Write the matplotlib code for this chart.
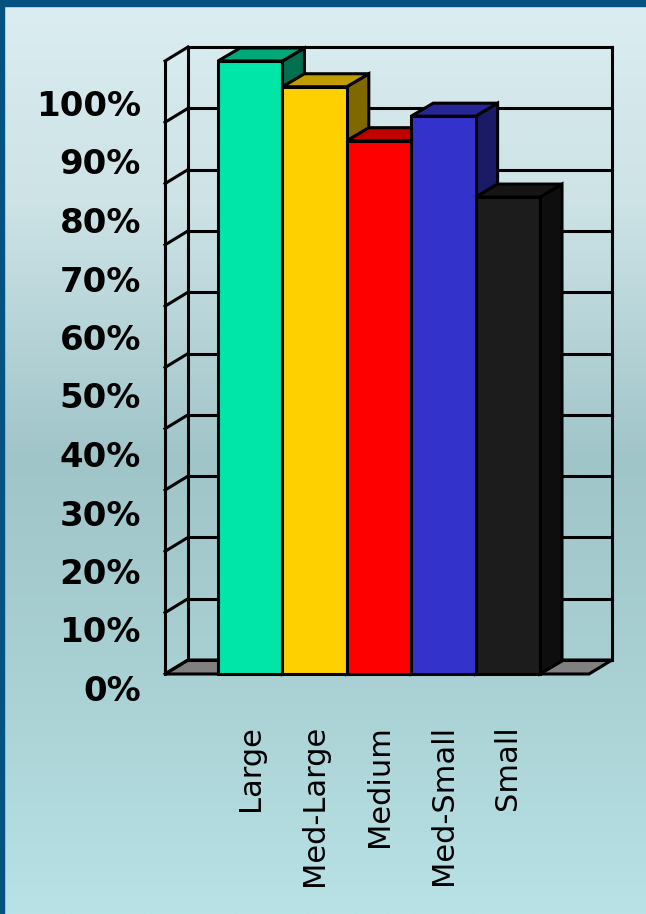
import numpy as np
import matplotlib
matplotlib.use("Agg")
import matplotlib.pyplot as plt
from matplotlib.patches import Polygon, Rectangle
from matplotlib.transforms import blended_transform_factory
from matplotlib.colors import LinearSegmentedColormap

# ---- data ----
categories = ["Large", "Med-Large", "Medium", "Med-Small", "Small"]
values = [100.0, 95.8, 87.0, 91.0, 77.8]
front_colors = ["#00e5a8", "#ffd000", "#ff0000", "#3333cc", "#1c1c1c"]
top_colors = ["#00a87a", "#c09c00", "#c00000", "#262699", "#151515"]
side_colors = ["#007050", "#806800", "#800000", "#1a1a66", "#0e0e0e"]
y_ticks = list(range(0, 101, 10))
y_tick_labels = [f"{t}%" for t in y_ticks]

W, H = 646, 914
fig = plt.figure(figsize=(W / 100, H / 100), dpi=100)

# background gradient
bg = fig.add_axes([0, 0, 1, 1], zorder=-10)
cmap = LinearSegmentedColormap.from_list(
    "bg",
    [(0.0, "#dbedf0"), (0.22, "#cde3e6"), (0.50, "#a0c5c9"),
     (0.72, "#a8cfd2"), (1.0, "#b8e2e6")])
grad = np.linspace(0, 1, 400).reshape(-1, 1)
bg.imshow(grad, aspect="auto", cmap=cmap, extent=[0, 1, 0, 1], origin="upper")
bg.set_axis_off()

# border
fig.patches.append(Rectangle((0, 1 - 6 / H), 1, 6 / H, transform=fig.transFigure,
                             color="#03527f", zorder=5))
fig.patches.append(Rectangle((0, 0), 4 / W, 1, transform=fig.transFigure,
                             color="#03527f", zorder=5))

# main axes: front plane
fl, fr, ft, fb = 165, 589, 61, 674
bar_l, bar_r = 218, 540
n = len(categories)
ppx = (bar_r - bar_l) / n
xl = -0.5 - (bar_l - fl) / ppx
xr = n - 0.5 + (fr - bar_r) / ppx
ax = fig.add_axes([fl / W, (H - fb) / H, (fr - fl) / W, (fb - ft) / H])
ax.set_xlim(xl, xr)
ax.set_ylim(0, 100)
ax.set_axis_off()
ax.patch.set_alpha(0)
ppy = (fb - ft) / 100.0

wdx, wdy = 23 / ppx, 14 / ppy
bdx, bdy = 22 / ppx, 13 / ppy
lw = 2.2
kw = dict(color="black", lw=lw, clip_on=False, solid_capstyle="projecting")

# floor
ax.add_patch(Polygon([(xl, 0), (xr, 0), (xr + wdx, wdy), (xl + wdx, wdy)],
                     closed=True, facecolor="#808080", edgecolor="black",
                     lw=lw, clip_on=False, joinstyle="miter"))
# gridlines on back wall and left wall
for t in y_ticks:
    ax.plot([xl + wdx, xr + wdx], [t + wdy, t + wdy], **kw)
    ax.plot([xl, xl + wdx], [t, t + wdy], **kw)
ax.plot([xl, xl], [0, 100], **kw)
ax.plot([xl + wdx, xl + wdx], [wdy, 100 + wdy], **kw)
ax.plot([xr + wdx, xr + wdx], [wdy, 100 + wdy], **kw)

# bars
for i, v in enumerate(values):
    x0, x1 = i - 0.5, i + 0.5
    side = [(x1, 0), (x1 + bdx, bdy), (x1 + bdx, v + bdy), (x1, v)]
    top = [(x0, v), (x1, v), (x1 + bdx, v + bdy), (x0 + bdx, v + bdy)]
    front = [(x0, 0), (x1, 0), (x1, v), (x0, v)]
    for pts, c in ((side, side_colors[i]), (top, top_colors[i]), (front, front_colors[i])):
        ax.add_patch(Polygon(pts, closed=True, facecolor=c, edgecolor="black",
                             lw=lw, clip_on=False, joinstyle="miter", zorder=3))

# category labels
tr = blended_transform_factory(ax.transData, fig.transFigure)
for i, c in enumerate(categories):
    ax.text(i, (H - 725) / H, c, rotation=90, ha="center", va="top",
            fontsize=22, family="DejaVu Sans", color="black", transform=tr)

# value axis labels (separate label scale)
lab_top, lab_bot = 103, 688
ax2 = fig.add_axes([141 / W, (H - lab_bot) / H, 1 / W, (lab_bot - lab_top) / H])
ax2.set_ylim(0, 100)
ax2.set_yticks(y_ticks)
ax2.set_yticklabels(y_tick_labels, fontsize=24.5, fontweight="bold",
                    family="DejaVu Sans")
ax2.tick_params(axis="y", length=0, pad=0)
ax2.set_xticks([])
for s in ax2.spines.values():
    s.set_visible(False)
ax2.patch.set_alpha(0)

fig.savefig("out.png", dpi=100)
